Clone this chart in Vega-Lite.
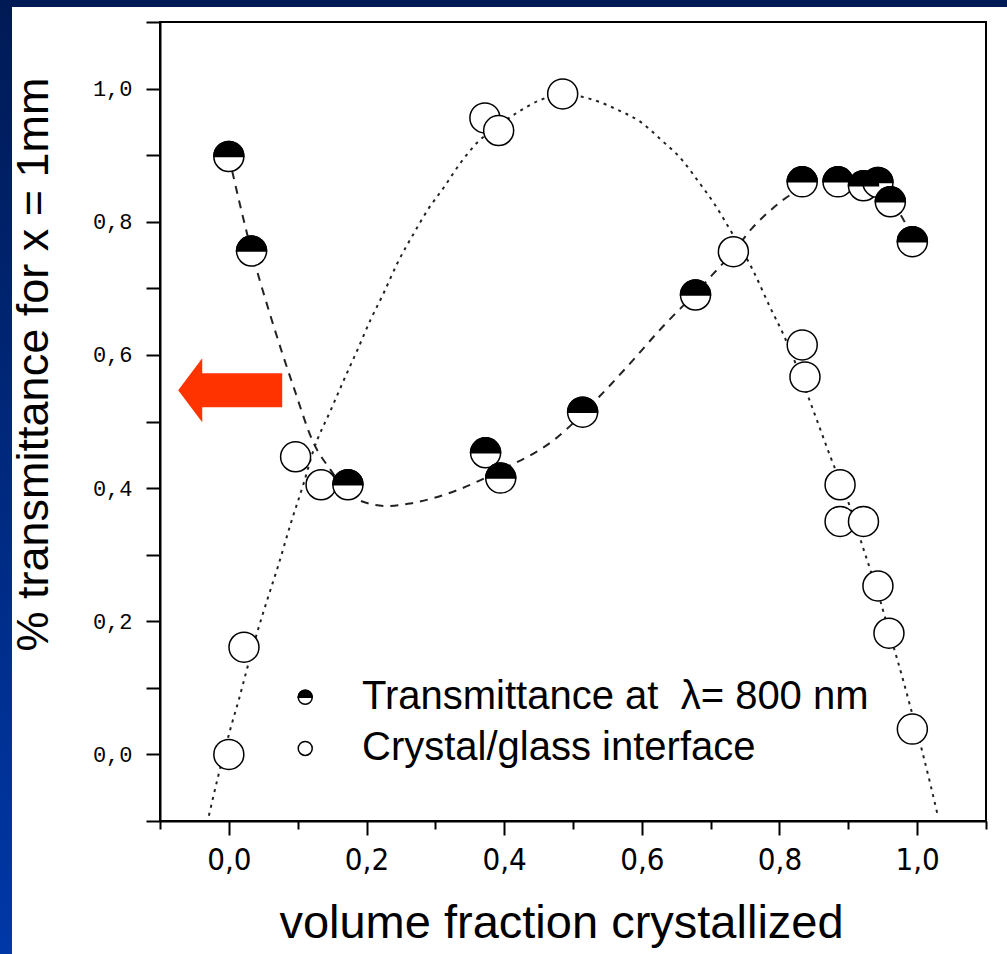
{
  "$schema": "https://vega.github.io/schema/vega-lite/v6.json",
  "width": 826,
  "height": 799,
  "autosize": {"type": "none"},
  "padding": {"left": 160, "top": 22, "right": 21, "bottom": 133},
  "background": "white",
  "config": {"view": {"stroke": "black", "strokeWidth": 2}},
  "datasets": {
    "pts": [
      {"series": "Transmittance at λ= 800 nm", "x": 0.000, "y": 0.898},
      {"series": "Transmittance at λ= 800 nm", "x": 0.033, "y": 0.756},
      {"series": "Transmittance at λ= 800 nm", "x": 0.173, "y": 0.405},
      {"series": "Transmittance at λ= 800 nm", "x": 0.373, "y": 0.453},
      {"series": "Transmittance at λ= 800 nm", "x": 0.395, "y": 0.415},
      {"series": "Transmittance at λ= 800 nm", "x": 0.514, "y": 0.514},
      {"series": "Transmittance at λ= 800 nm", "x": 0.678, "y": 0.690},
      {"series": "Transmittance at λ= 800 nm", "x": 0.833, "y": 0.860},
      {"series": "Transmittance at λ= 800 nm", "x": 0.885, "y": 0.860},
      {"series": "Transmittance at λ= 800 nm", "x": 0.922, "y": 0.854},
      {"series": "Transmittance at λ= 800 nm", "x": 0.943, "y": 0.859},
      {"series": "Transmittance at λ= 800 nm", "x": 0.961, "y": 0.830},
      {"series": "Transmittance at λ= 800 nm", "x": 0.993, "y": 0.770},
      {"series": "Crystal/glass interface", "x": 0.000, "y": 0.000},
      {"series": "Crystal/glass interface", "x": 0.022, "y": 0.161},
      {"series": "Crystal/glass interface", "x": 0.097, "y": 0.447},
      {"series": "Crystal/glass interface", "x": 0.134, "y": 0.405},
      {"series": "Crystal/glass interface", "x": 0.372, "y": 0.956},
      {"series": "Crystal/glass interface", "x": 0.392, "y": 0.937},
      {"series": "Crystal/glass interface", "x": 0.485, "y": 0.992},
      {"series": "Crystal/glass interface", "x": 0.733, "y": 0.755},
      {"series": "Crystal/glass interface", "x": 0.833, "y": 0.615},
      {"series": "Crystal/glass interface", "x": 0.837, "y": 0.567},
      {"series": "Crystal/glass interface", "x": 0.888, "y": 0.405},
      {"series": "Crystal/glass interface", "x": 0.888, "y": 0.350},
      {"series": "Crystal/glass interface", "x": 0.922, "y": 0.350},
      {"series": "Crystal/glass interface", "x": 0.943, "y": 0.253},
      {"series": "Crystal/glass interface", "x": 0.959, "y": 0.182},
      {"series": "Crystal/glass interface", "x": 0.993, "y": 0.038}
    ],
    "fit": [
      {"curve": "T", "x": 0.000, "y": 0.898},
      {"curve": "T", "x": 0.033, "y": 0.756},
      {"curve": "T", "x": 0.061, "y": 0.657},
      {"curve": "T", "x": 0.094, "y": 0.552},
      {"curve": "T", "x": 0.123, "y": 0.468},
      {"curve": "T", "x": 0.148, "y": 0.427},
      {"curve": "T", "x": 0.170, "y": 0.397},
      {"curve": "T", "x": 0.196, "y": 0.379},
      {"curve": "T", "x": 0.231, "y": 0.373},
      {"curve": "T", "x": 0.264, "y": 0.377},
      {"curve": "T", "x": 0.332, "y": 0.397},
      {"curve": "T", "x": 0.395, "y": 0.427},
      {"curve": "T", "x": 0.472, "y": 0.472},
      {"curve": "T", "x": 0.536, "y": 0.535},
      {"curve": "T", "x": 0.581, "y": 0.585},
      {"curve": "T", "x": 0.630, "y": 0.642},
      {"curve": "T", "x": 0.678, "y": 0.693},
      {"curve": "T", "x": 0.704, "y": 0.722},
      {"curve": "T", "x": 0.733, "y": 0.755},
      {"curve": "T", "x": 0.760, "y": 0.790},
      {"curve": "T", "x": 0.790, "y": 0.820},
      {"curve": "T", "x": 0.820, "y": 0.843},
      {"curve": "T", "x": 0.850, "y": 0.855},
      {"curve": "T", "x": 0.880, "y": 0.860},
      {"curve": "T", "x": 0.920, "y": 0.857},
      {"curve": "T", "x": 0.950, "y": 0.842},
      {"curve": "T", "x": 0.975, "y": 0.812},
      {"curve": "T", "x": 0.995, "y": 0.772},
      {"curve": "C", "x": -0.029, "y": -0.092},
      {"curve": "C", "x": -0.016, "y": -0.035},
      {"curve": "C", "x": -0.007, "y": 0.002},
      {"curve": "C", "x": 0.003, "y": 0.041},
      {"curve": "C", "x": 0.015, "y": 0.084},
      {"curve": "C", "x": 0.025, "y": 0.123},
      {"curve": "C", "x": 0.042, "y": 0.186},
      {"curve": "C", "x": 0.057, "y": 0.236},
      {"curve": "C", "x": 0.071, "y": 0.281},
      {"curve": "C", "x": 0.090, "y": 0.347},
      {"curve": "C", "x": 0.109, "y": 0.408},
      {"curve": "C", "x": 0.123, "y": 0.457},
      {"curve": "C", "x": 0.148, "y": 0.517},
      {"curve": "C", "x": 0.167, "y": 0.562},
      {"curve": "C", "x": 0.187, "y": 0.608},
      {"curve": "C", "x": 0.206, "y": 0.653},
      {"curve": "C", "x": 0.225, "y": 0.693},
      {"curve": "C", "x": 0.245, "y": 0.738},
      {"curve": "C", "x": 0.269, "y": 0.783},
      {"curve": "C", "x": 0.289, "y": 0.818},
      {"curve": "C", "x": 0.312, "y": 0.851},
      {"curve": "C", "x": 0.337, "y": 0.889},
      {"curve": "C", "x": 0.361, "y": 0.919},
      {"curve": "C", "x": 0.390, "y": 0.943},
      {"curve": "C", "x": 0.419, "y": 0.964},
      {"curve": "C", "x": 0.453, "y": 0.983},
      {"curve": "C", "x": 0.482, "y": 0.991},
      {"curve": "C", "x": 0.511, "y": 0.988},
      {"curve": "C", "x": 0.530, "y": 0.983},
      {"curve": "C", "x": 0.565, "y": 0.968},
      {"curve": "C", "x": 0.598, "y": 0.950},
      {"curve": "C", "x": 0.627, "y": 0.924},
      {"curve": "C", "x": 0.660, "y": 0.891},
      {"curve": "C", "x": 0.681, "y": 0.862},
      {"curve": "C", "x": 0.704, "y": 0.829},
      {"curve": "C", "x": 0.731, "y": 0.783},
      {"curve": "C", "x": 0.762, "y": 0.726},
      {"curve": "C", "x": 0.787, "y": 0.670},
      {"curve": "C", "x": 0.806, "y": 0.630},
      {"curve": "C", "x": 0.823, "y": 0.588},
      {"curve": "C", "x": 0.849, "y": 0.517},
      {"curve": "C", "x": 0.874, "y": 0.447},
      {"curve": "C", "x": 0.903, "y": 0.370},
      {"curve": "C", "x": 0.920, "y": 0.315},
      {"curve": "C", "x": 0.932, "y": 0.277},
      {"curve": "C", "x": 0.946, "y": 0.232},
      {"curve": "C", "x": 0.959, "y": 0.185},
      {"curve": "C", "x": 0.971, "y": 0.143},
      {"curve": "C", "x": 0.980, "y": 0.110},
      {"curve": "C", "x": 0.990, "y": 0.072},
      {"curve": "C", "x": 1.007, "y": 0.006},
      {"curve": "C", "x": 1.019, "y": -0.044},
      {"curve": "C", "x": 1.030, "y": -0.092}
    ]
  },
  "layer": [
    {
      "data": {"name": "fit"},
      "transform": [{"filter": "datum.curve == 'T'"}],
      "mark": {"type": "line", "interpolate": "monotone", "color": "#222222", "strokeWidth": 2, "strokeDash": [8, 7]},
      "encoding": {
        "x": {
          "field": "x",
          "type": "quantitative",
          "scale": {"domain": [-0.1, 1.1], "nice": false, "zero": false},
          "axis": {
            "title": "volume fraction crystallized",
            "values": [-0.1, 0, 0.1, 0.2, 0.3, 0.4, 0.5, 0.6, 0.7, 0.8, 0.9, 1.0, 1.1],
            "labelExpr": "abs(round(datum.value*10)) % 2 == 0 ? replace(format(datum.value, '.1f'), '.', ',') : ''",
            "grid": false,
            "domainColor": "black",
            "domainWidth": 2,
            "tickColor": "black",
            "tickWidth": 2,
            "tickSize": {"condition": {"test": "abs(round(datum.value*10)) % 2 == 0", "value": 14}, "value": 8},
            "labelFont": "'DejaVu Sans Condensed', 'Liberation Sans', sans-serif",
            "labelFontSize": 31,
            "labelColor": "black",
            "labelPadding": 10,
            "labelOverlap": false,
            "labelFlush": false,
            "titleFont": "Liberation Sans",
            "titleFontSize": 47,
            "titleFontWeight": "normal",
            "titleColor": "black",
            "titleX": 401,
            "titleY": 116,
            "titleAlign": "center",
            "titleBaseline": "alphabetic"
          }
        },
        "y": {
          "field": "y",
          "type": "quantitative",
          "scale": {"domain": [-0.1, 1.1], "nice": false, "zero": false},
          "axis": {
            "title": "% transmittance for x = 1mm",
            "values": [-0.1, 0, 0.1, 0.2, 0.3, 0.4, 0.5, 0.6, 0.7, 0.8, 0.9, 1.0, 1.1],
            "labelExpr": "abs(round(datum.value*10)) % 2 == 0 ? replace(format(datum.value, '.1f'), '.', ',') : ''",
            "grid": false,
            "domainColor": "black",
            "domainWidth": 2,
            "tickColor": "black",
            "tickWidth": 2,
            "tickSize": 14,
            "labelFont": "Liberation Mono",
            "labelFontSize": 22,
            "labelColor": "black",
            "labelPadding": 14,
            "labelOverlap": false,
            "labelFlush": false,
            "titleFont": "Liberation Sans",
            "titleFontSize": 45,
            "titleFontWeight": "normal",
            "titleColor": "black",
            "titleX": -113,
            "titleY": 342,
            "titleAngle": 270,
            "titleAlign": "center",
            "titleBaseline": "alphabetic"
          }
        }
      }
    },
    {
      "data": {"name": "fit"},
      "transform": [{"filter": "datum.curve == 'C'"}],
      "mark": {"type": "line", "interpolate": "monotone", "color": "#222222", "strokeWidth": 2, "strokeDash": [3, 5]},
      "encoding": {
        "x": {"field": "x", "type": "quantitative"},
        "y": {"field": "y", "type": "quantitative"}
      }
    },
    {
      "data": {"values": [{"k": 1}]},
      "mark": {
        "type": "rect",
        "fill": {
          "gradient": "linear",
          "x1": 0, "y1": 0, "x2": 0, "y2": 1,
          "stops": [
            {"offset": 0, "color": "#001a55"},
            {"offset": 1, "color": "#0038a8"}
          ]
        }
      },
      "encoding": {
        "x": {"datum": -0.33245, "type": "quantitative"},
        "x2": {"datum": -0.31501},
        "y": {"datum": 1.13304, "type": "quantitative"},
        "y2": {"datum": -0.29975}
      }
    },
    {
      "data": {"values": [{"k": 1}]},
      "mark": {"type": "rect", "fill": "#001a55"},
      "encoding": {
        "x": {"datum": -0.33245, "type": "quantitative"},
        "x2": {"datum": 1.5},
        "y": {"datum": 1.13304, "type": "quantitative"},
        "y2": {"datum": 1.12253}
      }
    },
    {
      "data": {"values": [{"k": 1}]},
      "mark": {
        "type": "point",
        "shape": "M -1 0 L -0.538 -0.615 L -0.538 -0.327 L 1 -0.327 L 1 0.327 L -0.538 0.327 L -0.538 0.615 Z",
        "size": 10816,
        "filled": true,
        "fill": "#ff3300",
        "strokeWidth": 0,
        "opacity": 1
      },
      "encoding": {
        "x": {"datum": 0.002, "type": "quantitative"},
        "y": {"datum": 0.547, "type": "quantitative"}
      }
    },
    {
      "data": {"name": "pts"},
      "transform": [{"filter": "datum.series == 'Crystal/glass interface'"}],
      "mark": {"type": "point", "shape": "circle", "size": 900, "filled": true, "fill": "white", "stroke": "black", "strokeWidth": 1.5, "opacity": 1},
      "encoding": {
        "x": {"field": "x", "type": "quantitative"},
        "y": {"field": "y", "type": "quantitative"}
      }
    },
    {
      "data": {"name": "pts"},
      "transform": [{"filter": "datum.series != 'Crystal/glass interface'"}],
      "mark": {"type": "point", "shape": "circle", "size": 900, "filled": true, "fill": "white", "stroke": "black", "strokeWidth": 1.5, "opacity": 1},
      "encoding": {
        "x": {"field": "x", "type": "quantitative"},
        "y": {"field": "y", "type": "quantitative"}
      }
    },
    {
      "data": {"name": "pts"},
      "transform": [{"filter": "datum.series != 'Crystal/glass interface'"}],
      "mark": {"type": "point", "shape": "M -1 0 C -1 -0.5523 -0.5523 -1 0 -1 C 0.5523 -1 1 -0.5523 1 0 Z", "size": 900, "filled": true, "fill": "black", "stroke": "black", "strokeWidth": 1.5, "opacity": 1},
      "encoding": {
        "x": {"field": "x", "type": "quantitative"},
        "y": {"field": "y", "type": "quantitative"}
      }
    },
    {
      "data": {"values": [{"k": 1}]},
      "mark": {"type": "point", "shape": "circle", "size": 196, "filled": true, "fill": "white", "stroke": "black", "strokeWidth": 1.5, "opacity": 1},
      "encoding": {
        "x": {"datum": 0.111, "type": "quantitative"},
        "y": {"datum": 0.0857, "type": "quantitative"}
      }
    },
    {
      "data": {"values": [{"k": 1}]},
      "mark": {"type": "point", "shape": "M -1 0 C -1 -0.5523 -0.5523 -1 0 -1 C 0.5523 -1 1 -0.5523 1 0 Z", "size": 196, "filled": true, "fill": "black", "stroke": "black", "strokeWidth": 1.5, "opacity": 1},
      "encoding": {
        "x": {"datum": 0.111, "type": "quantitative"},
        "y": {"datum": 0.0857, "type": "quantitative"}
      }
    },
    {
      "data": {"values": [{"k": 1}]},
      "mark": {"type": "point", "shape": "circle", "size": 196, "filled": true, "fill": "white", "stroke": "black", "strokeWidth": 1.5, "opacity": 1},
      "encoding": {
        "x": {"datum": 0.111, "type": "quantitative"},
        "y": {"datum": 0.009, "type": "quantitative"}
      }
    },
    {
      "data": {"values": [{"k": 1}]},
      "mark": {"type": "text", "align": "left", "baseline": "middle", "font": "Liberation Sans", "fontSize": 40, "color": "black", "text": "Transmittance at \u00a0λ= 800 nm"},
      "encoding": {
        "x": {"datum": 0.1935, "type": "quantitative"},
        "y": {"datum": 0.0857, "type": "quantitative"}
      }
    },
    {
      "data": {"values": [{"k": 1}]},
      "mark": {"type": "text", "align": "left", "baseline": "middle", "font": "Liberation Sans", "fontSize": 40, "color": "black", "text": "Crystal/glass interface"},
      "encoding": {
        "x": {"datum": 0.1935, "type": "quantitative"},
        "y": {"datum": 0.009, "type": "quantitative"}
      }
    }
  ]
}
